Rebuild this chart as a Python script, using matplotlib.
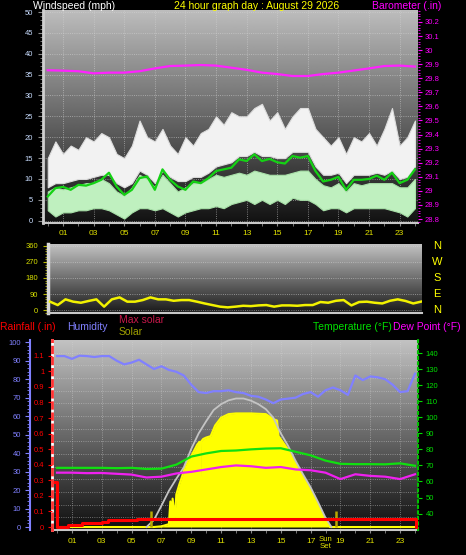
import numpy as np
import matplotlib.pyplot as plt
from matplotlib.ticker import MultipleLocator, FuncFormatter

plt.rcParams['font.family'] = 'Liberation Sans'

# Time axes (hours of the day)
half_hours = np.arange(0, 24.5, 0.5)
hours = np.arange(0, 25)
hour_ticks = np.arange(1, 24, 2)
hour_labels = ['%02d' % h for h in hour_ticks]

# Wind speed (mph), read every half hour
gust_hi = [15, 19, 16, 18, 17, 20, 19, 21, 20, 16,
           15, 18, 24, 20, 19, 22, 18, 16, 20, 18,
           21, 22, 25, 23, 26, 25, 25, 27, 28, 24,
           26, 22, 25, 27, 27, 22, 20, 18, 20, 16,
           20, 19, 21, 18, 22, 27, 18, 20, 24]
gust_lo = [8, 9, 9, 9.5, 10, 10, 10.5, 11, 11, 9,
           8, 9, 12, 11, 9, 12, 10.5, 9.5, 9.5, 10.5,
           10.5, 11.5, 13, 13.5, 14, 15.5, 15.5, 16.5, 15.5, 15.5,
           15, 15, 16.5, 16.5, 16.5, 13, 11, 11, 11.5, 9,
           11, 11, 11, 11.5, 11, 12, 10, 10.5, 13]
speed_hi = [7, 8, 7.5, 8, 8.5, 9, 9, 10, 9, 7,
            6, 8, 11, 10, 8, 11, 9, 7, 8, 9,
            9, 10, 11, 10.5, 11, 11.5, 11, 12, 11.5, 11,
            11, 11, 11.5, 12, 12, 10, 8.5, 8, 9, 7,
            9, 8.5, 9, 9, 9, 9, 8, 8, 10]
speed_lo = [2.5, 1, 2, 2, 2.5, 2.5, 3, 3, 2.5, 1.5,
            0.5, 2, 3, 3, 2.5, 3, 2, 1, 2, 2.5,
            3, 3, 3.5, 3, 4, 4.5, 5, 4, 5, 4,
            5, 4, 5.5, 5, 5, 4, 2.5, 3, 3, 2,
            3, 3, 3, 3, 3, 2.5, 2, 1, 3]
wind_avg = [5.8, 7.8, 8.1, 7.4, 8.6, 8.4, 9, 9.8, 11.5, 8.2,
            6.2, 7.4, 10.2, 10.6, 7.4, 12.3, 9.8, 8.2, 7.4, 9.4,
            9, 10.2, 11.9, 12.3, 12.7, 14.7, 14.3, 15.9, 14.3, 14.8,
            14, 13.7, 15.5, 15.1, 15.5, 11.9, 9.4, 9.8, 10.5, 7.4,
            9.8, 9.8, 10, 10.8, 9.8, 11.5, 9, 9.8, 12.3]

# Barometer (in), hourly
barometer = [29.857, 29.854, 29.85, 29.835, 29.84, 29.84, 29.85, 29.87, 29.887,
             29.89, 29.894, 29.89, 29.875, 29.86, 29.84, 29.83, 29.816, 29.816,
             29.83, 29.84, 29.855, 29.87, 29.887, 29.89, 29.883]

# Wind direction (degrees), half hourly
wind_dir = [47, 28, 60, 47, 41, 51, 60, 19, 60, 71,
            47, 47, 56, 71, 60, 60, 52, 56, 56, 47,
            37, 28, 19, 15, 19, 24, 22, 26, 28, 19,
            26, 26, 24, 28, 28, 45, 41, 52, 56, 26,
            45, 47, 41, 37, 52, 60, 51, 37, 47]
compass = ['N', 'W', 'S', 'E', 'N']
compass_deg = [360, 270, 180, 90, 0]

# Humidity (%), half hourly
humidity = [92.5, 92.5, 91, 92.7, 92.5, 92, 92.5, 92.5, 90, 88,
            89, 90.5, 88, 85.5, 87, 85, 84, 82, 77, 73,
            72.5, 73.5, 73.5, 74, 73, 72.5, 71, 70.5, 69, 67,
            69, 69.5, 70, 72, 73, 70.5, 74, 75.5, 74, 71.5,
            82, 79.5, 81.5, 81, 80, 77, 73, 73.5, 83]

# Temperature and dew point (F), hourly
temperature = [68.5, 68.5, 68.5, 68.5, 68.3, 68.5, 67.8, 68, 70.5, 75.5, 77.5, 79,
               79.3, 80, 80.5, 80.7, 78.5, 76.3, 73, 71, 70.8, 70.8, 70.7, 71.3, 69.8]
dew_point = [65.5, 65.5, 65.2, 65.3, 64.8, 64.3, 62.5, 63, 65, 66, 67.5, 69,
             70, 69.5, 68.5, 69, 67.5, 67, 65.5, 61.5, 64.5, 63.5, 63, 61.5, 64.5]

# Solar radiation (W/m2)
solar_hours = [0, 6.5, 7.0, 7.5, 7.6, 7.7, 7.75, 7.9, 8.0, 8.2,
               8.4, 8.6, 8.8, 9.0, 9.2, 9.4, 9.55, 9.6, 9.65, 9.8,
               10.0, 10.3, 10.6, 11.0, 11.5, 12.0, 13.0, 14.0, 14.5, 14.75,
               14.85, 15.5, 16.0, 16.5, 17.0, 17.5, 18.0, 18.3, 24]
solar = [0, 0, 5, 20, 180, 30, 200, 60, 230, 300,
         360, 430, 470, 500, 540, 580, 600, 190, 600, 620,
         630, 640, 715, 770, 795, 800, 800, 795, 760, 750,
         640, 545, 450, 355, 260, 160, 50, 0, 0]
max_solar_hours = [6.0, 6.5, 7.0, 7.5, 8.0, 8.5, 9.0, 9.5, 10.0, 10.5, 11.0, 11.5, 12.0,
                   12.5, 13.0, 13.5, 14.0, 14.5, 15.0, 15.5, 16.0, 16.5, 17.0, 17.5, 18.0, 18.4]
max_solar = [0, 50, 150, 255, 340, 420, 550, 660, 745, 824, 865, 892, 905,
             905, 890, 865, 830, 770, 660, 570, 465, 370, 280, 175, 65, 0]
sun_rise, sun_set = 6.3, 18.68

# Rainfall (in), cumulative steps
rain_hours = [-0.33, 0.03, 0.76, 1.65, 3.0, 3.44, 5.34, 24.05, 24.2]
rain = [0.29, 0.0, 0.01, 0.025, 0.035, 0.045, 0.053, 0.0, 0.0]

W, H = 466, 555
fig = plt.figure(figsize=(W / 100, H / 100), dpi=100, facecolor='black')


def num_fmt(v, pos):
    s = '%.1f' % v
    return s[:-2] if s.endswith('.0') else s


def gradient(ax, top, bottom):
    x0, x1 = ax.get_xlim()
    y0, y1 = ax.get_ylim()
    g = np.linspace(top, bottom, 256).reshape(-1, 1)
    ax.imshow(g, extent=[x0, x1, y0, y1], aspect='auto', cmap='gray',
              vmin=0, vmax=1, zorder=0, interpolation='bilinear')
    ax.set_xlim(x0, x1)
    ax.set_ylim(y0, y1)


def hide_spines(ax, keep=()):
    for name, sp in ax.spines.items():
        sp.set_visible(name in keep)


# ---------------- Wind speed + barometer ----------------
ax1 = fig.add_axes([43 / W, 1 - 223 / H, 375 / W, 213 / H])
ax1.set_xlim(-0.31, 24.2)
ax1.set_ylim(-0.55, 50.48)
gradient(ax1, 0.74, 0.07)
ax1.fill_between(half_hours, gust_lo, gust_hi, color='#f2f2f2', lw=0.8, ec='#dcdcdc', zorder=2)
ax1.fill_between(half_hours, speed_lo, speed_hi, color='#bff0bf', lw=0.8, ec='#a8e0a8', zorder=3)
ax1.plot(half_hours, wind_avg, color='#14d214', lw=1.6, zorder=4)
ax1.yaxis.set_major_locator(MultipleLocator(5))
ax1.yaxis.set_minor_locator(MultipleLocator(1))
ax1.set_xticks(hour_ticks)
ax1.set_xticklabels(hour_labels)
ax1.xaxis.set_minor_locator(MultipleLocator(1))
ax1.tick_params(axis='y', which='both', colors='#8a8a8a', labelcolor='#c8dcff', labelsize=5.5, pad=3.4)
ax1.tick_params(axis='y', which='major', length=3.6)
ax1.tick_params(axis='y', which='minor', length=2)
ax1.tick_params(axis='x', which='both', colors='#8a8a8a', labelcolor='#e0e000', labelsize=6, length=2.5, pad=2.5)
ax1.grid(True, color='#d4d4d4', ls=':', lw=0.6, alpha=0.7)
hide_spines(ax1, ('left', 'bottom'))
ax1.spines['left'].set_color('#d0d0d0')
ax1.spines['left'].set_linewidth(2)
ax1.spines['bottom'].set_color('#c8c8c8')
ax1.spines['bottom'].set_linewidth(1.5)

ax1b = ax1.twinx()
ax1b.set_ylim(28.7716, 30.285)
ax1b.plot(hours, barometer, color='#ff22ff', lw=1.6)
ax1b.yaxis.set_major_locator(MultipleLocator(0.1))
ax1b.yaxis.set_minor_locator(MultipleLocator(0.02))
ax1b.yaxis.set_major_formatter(FuncFormatter(num_fmt))
ax1b.tick_params(axis='y', which='both', colors='#ff00ff', labelsize=5.5, pad=2)
ax1b.tick_params(axis='y', which='major', length=3)
ax1b.tick_params(axis='y', which='minor', length=1.5)
hide_spines(ax1b)

# ---------------- Wind direction ----------------
ax2 = fig.add_axes([48 / W, 1 - 312.7 / H, 373.7 / W, 68.7 / H])
ax2.set_xlim(-0.13, 24.05)
ax2.set_ylim(-15, 371)
gradient(ax2, 0.76, 0.10)
ax2.plot(half_hours, wind_dir, color='#f2f200', lw=1.8, zorder=3)
ax2.set_yticks([0, 90, 180, 270, 360])
ax2.yaxis.set_minor_locator(MultipleLocator(15))
ax2.set_xticks([])
ax2.tick_params(axis='y', which='both', colors='#b8b800', labelcolor='#d8e000', labelsize=5.5, pad=3.6)
ax2.tick_params(axis='y', which='major', length=3.5)
ax2.tick_params(axis='y', which='minor', length=2)
ax2.grid(True, axis='y', color='#d4d4d4', ls=':', lw=0.6, alpha=0.7)
hide_spines(ax2, ('left', 'bottom'))
ax2.spines['left'].set_color('#d8d8d8')
ax2.spines['left'].set_linewidth(2.5)
ax2.spines['bottom'].set_color('#c8c8c8')
ax2.spines['bottom'].set_linewidth(1.5)
for letter, deg in zip(compass, compass_deg):
    ax2.text((437 - 48) / 373.7, deg, letter, color='#ffff00', fontsize=8,
             ha='center', va='center', transform=ax2.get_yaxis_transform())

# ---------------- Rain / humidity / solar / temperature ----------------
ax3 = fig.add_axes([52 / W, 1 - 530 / H, 366 / W, 190 / H])
ax3.set_xlim(-0.335, 24.2)
ax3.set_ylim(0, 15)
gradient(ax3, 0.76, 0.06)
ax3.set_yticks(np.arange(1, 15))
ax3.set_xticks(hour_ticks)
ax3.set_xticklabels(hour_labels)
ax3.xaxis.set_minor_locator(MultipleLocator(1))
ax3.tick_params(axis='y', length=0, labelleft=False)
ax3.tick_params(axis='x', which='both', colors='#8a8a8a', labelcolor='#e0e000', labelsize=6, length=2.5, pad=3.5)
ax3.grid(True, color='#d4d4d4', ls=':', lw=0.6, alpha=0.6)
hide_spines(ax3, ('left', 'bottom'))
ax3.spines['left'].set_color('white')
ax3.spines['left'].set_linewidth(2)
ax3.spines['bottom'].set_color('#c8c8c8')
ax3.spines['bottom'].set_linewidth(1.5)
# sunset label squeezed between the 17 and 19 hour labels
ax3.text(17.99, -0.07, 'Sun\nSet', color='#e0e000', fontsize=5.6, linespacing=0.95,
         ha='center', va='center', transform=ax3.get_xaxis_transform())

# solar
ax_sol = ax3.twinx()
ax_sol.set_ylim(-21, 1317)
ax_sol.fill_between(solar_hours, 0, solar, color='#ffff00', lw=0)
ax_sol.plot(solar_hours, solar, color='#ffff00', lw=1.5)
ax_sol.plot(max_solar_hours, max_solar, color='#c4c4c4', lw=1.3)
ax_sol.vlines([sun_rise, sun_set], 0, 110, colors='#b8a800', lw=1.8)
ax_sol.set_yticks([])
hide_spines(ax_sol)

# humidity
ax_hum = ax3.twinx()
ax_hum.set_ylim(-1.6, 101.2)
ax_hum.plot(half_hours, humidity, color='#8080ff', lw=1.6)
ax_hum.yaxis.tick_left()
ax_hum.yaxis.set_major_locator(MultipleLocator(10))
ax_hum.yaxis.set_minor_locator(MultipleLocator(2))
ax_hum.tick_params(axis='y', which='both', colors='#8080ff', labelsize=5.5, pad=3)
ax_hum.tick_params(axis='y', which='major', length=3.6)
ax_hum.tick_params(axis='y', which='minor', length=2)
hide_spines(ax_hum, ('left',))
ax_hum.spines['left'].set_position(('axes', -22 / 366))
ax_hum.spines['left'].set_color('#8080ff')
ax_hum.spines['left'].set_linewidth(1.5)

# temperature and dew point
ax_temp = ax3.twinx()
ax_temp.set_ylim(29.8, 148.1)
ax_temp.plot(hours, temperature, color='#10e010', lw=1.6)
ax_temp.plot(hours, dew_point, color='#f020f0', lw=1.6)
ax_temp.set_yticks(np.arange(40, 150, 10))
ax_temp.tick_params(axis='y', colors='#00e000', labelsize=5.5, length=3, pad=2.5)
hide_spines(ax_temp, ('right',))
ax_temp.spines['right'].set_color('#00c000')
ax_temp.spines['right'].set_linestyle(':')
ax_temp.spines['right'].set_linewidth(1.5)

# rainfall
ax_rain = ax3.twinx()
ax_rain.set_ylim(-0.019, 1.201)
ax_rain.plot(rain_hours, rain, color='#ff0000', lw=2.2, drawstyle='steps-post')
ax_rain.yaxis.tick_left()
ax_rain.set_yticks(np.arange(0, 1.15, 0.1))
ax_rain.yaxis.set_major_formatter(FuncFormatter(num_fmt))
ax_rain.tick_params(axis='y', colors='#ff0000', labelsize=5.5, length=3, pad=2.5)
hide_spines(ax_rain, ('left',))
ax_rain.spines['left'].set_color('#ff3030')
ax_rain.spines['left'].set_linestyle((0, (2, 2)))
ax_rain.spines['left'].set_linewidth(2)

# ---------------- Header texts ----------------
def label(x, y, s, color, ha='left'):
    fig.text(x / W, 1 - y / H, s, color=color, fontsize=7.5, ha=ha, va='center')


label(33, 6, 'Windspeed (mph)', 'white')
label(257, 6, '24 hour graph day : August 29 2026', '#ffff00', ha='center')
label(372, 6, 'Barometer (.in)', '#ff00ff')
label(0, 327, 'Rainfall (.in)', '#ff0000')
label(67, 327, 'Humidity', '#8080ff')
label(119, 320, 'Max solar', '#c8184a')
label(119, 332, 'Solar', '#a0a000')
label(313, 327, 'Temperature (\u00b0F)', '#00e000')
label(393, 327, 'Dew Point (\u00b0F)', '#ff00ff')

plt.savefig('out.png', dpi=100, facecolor='black')
